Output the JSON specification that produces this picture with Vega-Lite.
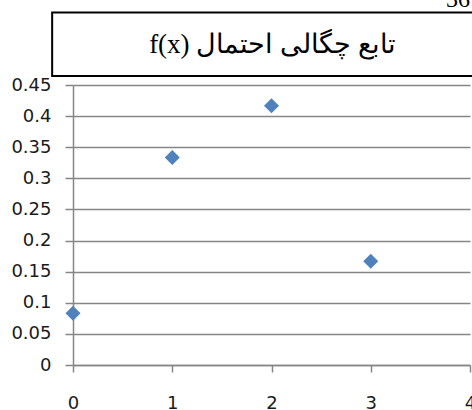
{
  "$schema": "https://vega.github.io/schema/vega-lite/v6.json",
  "autosize": "none",
  "width": 397,
  "height": 280,
  "padding": {"left": 73, "top": 85, "right": 2, "bottom": 45},
  "background": "white",
  "config": {"view": {"stroke": null}},
  "resolve": {"axis": {"x": "independent", "y": "independent"}},
  "data": {"values": [
    {"x": 0, "fx": 0.0833},
    {"x": 1, "fx": 0.3333},
    {"x": 2, "fx": 0.4167},
    {"x": 3, "fx": 0.1667}
  ]},
  "layer": [
    {
      "mark": {"type": "point", "shape": "diamond", "filled": true, "size": 225, "color": "#4F81BD", "opacity": 1},
      "encoding": {
        "x": {"field": "x", "type": "quantitative",
          "scale": {"domain": [0, 4], "nice": false, "zero": false},
          "axis": {"title": null, "values": [0, 1, 2, 3, 4], "format": "d", "grid": false,
            "labelOverlap": false, "labelFlush": false, "labelBound": false,
            "domainColor": "#868686", "domainWidth": 1.5, "tickColor": "#868686", "tickSize": 7, "tickWidth": 1.5,
            "labelFont": "DejaVu Sans", "labelFontSize": 18, "labelColor": "#1a1a1a", "labelPadding": 22}},
        "y": {"field": "fx", "type": "quantitative",
          "scale": {"domain": [0, 0.45], "nice": false, "zero": false},
          "axis": {"title": null, "values": [0, 0.05, 0.1, 0.15, 0.2, 0.25, 0.3, 0.35, 0.4, 0.45], "format": "~g",
            "labelOverlap": false, "labelFlush": false, "labelBound": false,
            "grid": true, "gridColor": "#868686", "gridWidth": 1.5,
            "domainColor": "#868686", "domainWidth": 1.5, "tickColor": "#868686", "tickSize": 8, "tickWidth": 1.5,
            "labelFont": "DejaVu Sans", "labelFontSize": 18, "labelColor": "#1a1a1a", "labelPadding": 14}}
      }
    },
    {
      "data": {"values": [{"label": "f(x) تابع چگالی احتمال"}]},
      "mark": {"type": "rect", "fill": "white", "stroke": "black", "strokeWidth": 2},
      "encoding": {
        "x": {"datum": -0.21, "type": "quantitative", "axis": null},
        "x2": {"datum": 4.4},
        "y": {"datum": 0.4645, "type": "quantitative", "axis": null},
        "y2": {"datum": 0.5665}
      }
    },
    {
      "data": {"values": [{"label": "f(x) تابع چگالی احتمال"}]},
      "mark": {"type": "text", "font": "Liberation Serif", "fontSize": 27, "color": "black", "align": "center", "baseline": "middle"},
      "encoding": {
        "x": {"datum": 2.01, "type": "quantitative", "axis": null},
        "y": {"datum": 0.515, "type": "quantitative", "axis": null},
        "text": {"field": "label"}
      }
    },
    {
      "data": {"values": [{"page": "36"}]},
      "mark": {"type": "text", "font": "Liberation Serif", "fontSize": 24, "color": "black", "align": "right", "baseline": "alphabetic"},
      "encoding": {
        "x": {"datum": 4.0, "type": "quantitative", "axis": null},
        "y": {"datum": 0.575, "type": "quantitative", "axis": null},
        "text": {"field": "page"}
      }
    }
  ]
}
